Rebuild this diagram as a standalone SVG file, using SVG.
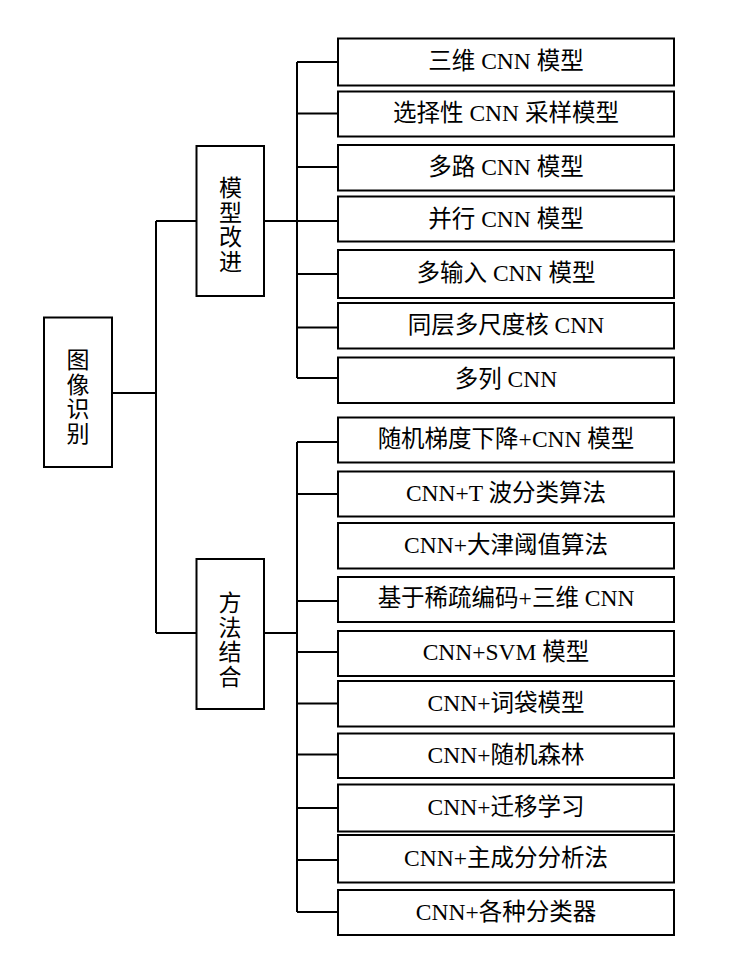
<svg xmlns="http://www.w3.org/2000/svg" width="752" height="960" viewBox="0 0 752 960">
<style>
.box{fill:#fff;stroke:#000;stroke-width:2}
.ln{fill:none;stroke:#000;stroke-width:2}
.t{font-family:"Liberation Serif","Noto Sans CJK SC",serif;font-size:23.5px;fill:#000;text-anchor:middle}
.v{font-family:"Liberation Serif","Noto Sans CJK SC",serif;font-size:23px;fill:#000;text-anchor:middle}
</style>
<rect width="752" height="960" fill="#fff"/>
<g id="connectors">
<path class="ln" d="M113 393H156M156 221V633M156 221H196M156 633H196"/>
<path class="ln" d="M265 221H297M297 62V378M297 62H337M297 113.5H337M297 167H337M297 221H337M297 274H337M297 327.5H337M297 378H337"/>
<path class="ln" d="M265 633H297M297 442V912M297 442H337M297 494H337M297 601H337M297 652H337M297 703.5H337M297 754.5H337M297 808H337M297 860H337M297 912H337"/>
</g>
<g id="root"><rect class="box" x="44" y="317.5" width="68" height="149.5"/>
<text class="v" x="78"><tspan x="78" y="368">图</tspan><tspan x="78" y="392.5">像</tspan><tspan x="78" y="417">识</tspan><tspan x="78" y="441.5">别</tspan></text></g>
<g id="model"><rect class="box" x="196.5" y="146" width="67.5" height="150"/>
<text class="v"><tspan x="230.5" y="196">模</tspan><tspan x="230.5" y="220.5">型</tspan><tspan x="230.5" y="245">改</tspan><tspan x="230.5" y="269.5">进</tspan></text></g>
<g id="method"><rect class="box" x="196.5" y="559" width="67.5" height="150"/>
<text class="v"><tspan x="230" y="611">方</tspan><tspan x="230" y="635.5">法</tspan><tspan x="230" y="660">结</tspan><tspan x="230" y="684.5">合</tspan></text></g>
<g id="n1"><rect class="box" x="338" y="38.5" width="336" height="47"/><text class="t" x="506" y="69">三维 CNN 模型</text></g>
<g id="n2"><rect class="box" x="338" y="91.5" width="336" height="45"/><text class="t" x="506" y="121">选择性 CNN 采样模型</text></g>
<g id="n3"><rect class="box" x="338" y="145" width="336" height="45.5"/><text class="t" x="506" y="175">多路 CNN 模型</text></g>
<g id="n4"><rect class="box" x="338" y="196.5" width="336" height="45"/><text class="t" x="506" y="226.5">并行 CNN 模型</text></g>
<g id="n5"><rect class="box" x="338" y="250" width="336" height="48"/><text class="t" x="506" y="281">多输入 CNN 模型</text></g>
<g id="n6"><rect class="box" x="338" y="303" width="336" height="45.5"/><text class="t" x="506" y="333">同层多尺度核 CNN</text></g>
<g id="n7"><rect class="box" x="338" y="357.5" width="336" height="45.5"/><text class="t" x="506" y="387">多列 CNN</text></g>
<g id="n8"><rect class="box" x="338" y="417.5" width="336" height="45"/><text class="t" x="506" y="447">随机梯度下降+CNN 模型</text></g>
<g id="n9"><rect class="box" x="338" y="471.5" width="336" height="45"/><text class="t" x="506" y="501">CNN+T 波分类算法</text></g>
<g id="n10"><rect class="box" x="338" y="523" width="336" height="45.5"/><text class="t" x="506" y="553">CNN+大津阈值算法</text></g>
<g id="n11"><rect class="box" x="338" y="577" width="336" height="45"/><text class="t" x="506" y="606">基于稀疏编码+三维 CNN</text></g>
<g id="n12"><rect class="box" x="338" y="631" width="336" height="45"/><text class="t" x="506" y="660">CNN+SVM 模型</text></g>
<g id="n13"><rect class="box" x="338" y="681" width="336" height="45.5"/><text class="t" x="506" y="710.5">CNN+词袋模型</text></g>
<g id="n14"><rect class="box" x="338" y="733.5" width="336" height="44.5"/><text class="t" x="506" y="762.5">CNN+随机森林</text></g>
<g id="n15"><rect class="box" x="338" y="784.5" width="336" height="47"/><text class="t" x="506" y="815">CNN+迁移学习</text></g>
<g id="n16"><rect class="box" x="338" y="835" width="336" height="47.5"/><text class="t" x="506" y="866">CNN+主成分分析法</text></g>
<g id="n17"><rect class="box" x="338" y="890" width="336" height="45"/><text class="t" x="506" y="919.5">CNN+各种分类器</text></g>
</svg>
